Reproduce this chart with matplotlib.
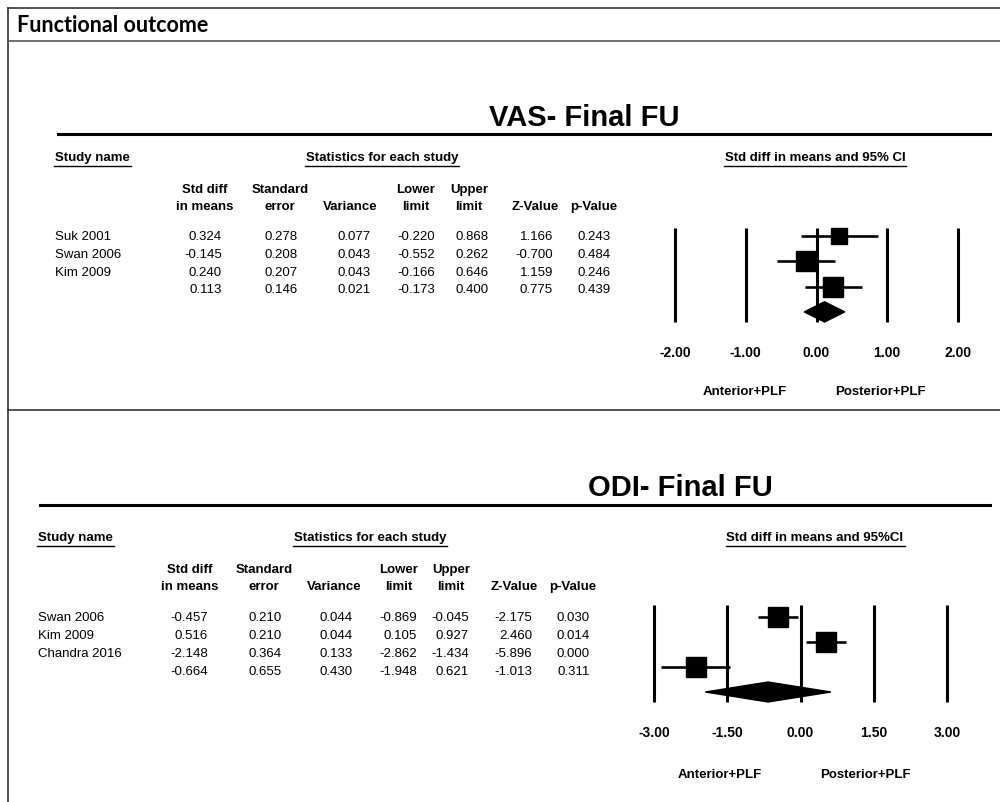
"""
Forest plots of functional outcome (VAS and ODI at final follow-up),
anterior+PLF vs posterior+PLF. Drawn like the CMA output tables.
"""

import matplotlib
matplotlib.use('Agg')
import matplotlib.pyplot as plt
import numpy as np

# Data
# -----------------------------------------------------------------------------

vas_studies = ['Suk 2001', 'Swan 2006', 'Kim 2009']
vas_smd = [0.324, -0.145, 0.240]
vas_se = [0.278, 0.208, 0.207]
vas_var = [0.077, 0.043, 0.043]
vas_lower = [-0.220, -0.552, -0.166]
vas_upper = [0.868, 0.262, 0.646]
vas_z = [1.166, -0.700, 1.159]
vas_p = [0.243, 0.484, 0.246]
# pooled: smd, se, var, lower, upper, z, p
vas_pooled = [0.113, 0.146, 0.021, -0.173, 0.400, 0.775, 0.439]
vas_ticks = [-2.00, -1.00, 0.00, 1.00, 2.00]

odi_studies = ['Swan 2006', 'Kim 2009', 'Chandra 2016']
odi_smd = [-0.457, 0.516, -2.148]
odi_se = [0.210, 0.210, 0.364]
odi_var = [0.044, 0.044, 0.133]
odi_lower = [-0.869, 0.105, -2.862]
odi_upper = [-0.045, 0.927, -1.434]
odi_z = [-2.175, 2.460, -5.896]
odi_p = [0.030, 0.014, 0.000]
odi_pooled = [-0.664, 0.655, 0.430, -1.948, 0.621, -1.013, 0.311]
odi_ticks = [-3.00, -1.50, 0.00, 1.50, 3.00]

head1 = ['Std diff', 'Standard', '', 'Lower', 'Upper', '', '']
head2 = ['in means', 'error', 'Variance', 'limit', 'limit', 'Z-Value', 'p-Value']

# Plot
# -----------------------------------------------------------------------------

FONT = 'Liberation Sans'
W, H = 1000, 802

fig = plt.figure(figsize=(10, 8.02), dpi=100)
bg = fig.add_axes([0, 0, 1, 1])
bg.set_xlim(0, W)
bg.set_ylim(H, 0)
bg.axis('off')

underlined = []


def _txt(x, y, s, size=9.5, weight='normal', ha='left', under=False, **kw):
    t = bg.text(x, y, s, fontsize=size, fontweight=weight, ha=ha, va='center',
                family=FONT, **kw)
    if under:
        underlined.append(t)
    return t


def _weights(var, pooled_var):
    # random-effects weights, tau^2 found from the pooled variance
    var = np.asarray(var)
    lo, hi = 0.0, 10.0
    for _ in range(60):
        t = 0.5 * (lo + hi)
        if 1 / np.sum(1 / (var + t)) < pooled_var:
            lo = t
        else:
            hi = t
    return 1 / (var + t)


def _table(x_name, col_x, head_x, y_top, y_head, y_rows, names, cols, pooled,
           stat_x):
    _txt(x_name, y_top, 'Study name', weight='bold', under=True)
    _txt(stat_x, y_top, 'Statistics for each study', weight='bold', ha='center',
         under=True)
    for hx, h1, h2 in zip(head_x, head1, head2):
        _txt(hx, y_head[0], h1, weight='bold', ha='center')
        _txt(hx, y_head[1], h2, weight='bold', ha='center')
    for i, name in enumerate(names):
        _txt(x_name, y_rows[i], name)
        for cx, col in zip(col_x, cols):
            _txt(cx, y_rows[i], f'{col[i]:.3f}', ha='right')
    for cx, v in zip(col_x, pooled):
        _txt(cx, y_rows[-1], f'{v:.3f}', ha='right')


def _forest(x0, x1, y0, y1, ticks, est, lo, hi, var, pooled, row_top, row_step):
    n = len(est)
    # rows at 0..n (n = pooled), mapped to pixel rows
    ytop = (y0 - row_top) / row_step
    ybot = (y1 - row_top) / row_step
    ax = fig.add_axes([x0 / W, 1 - y1 / H, (x1 - x0) / W, (y1 - y0) / H])
    ax.set_xlim(ticks[0], ticks[-1])
    ax.set_ylim(ybot, ytop)
    ax.set_frame_on(False)
    ax.vlines(ticks, ytop, ybot, color='black', lw=2.2, clip_on=False)
    w = _weights(var, pooled[2])
    side = 20 * np.sqrt(w / w.max())
    for i in range(n):
        ax.hlines(i, lo[i], hi[i], color='black', lw=1.9, clip_on=False)
        ax.plot(est[i], i, 's', color='black', ms=side[i] * 0.72, mec='black',
                clip_on=False)
    ax.fill([pooled[3], pooled[0], pooled[4], pooled[0]],
            [n, n - 0.4, n, n + 0.4], color='black', clip_on=False)
    ax.set_yticks([])
    ax.set_xticks(ticks)
    ax.set_xticklabels([f'{t:.2f}' for t in ticks], fontsize=10,
                       fontweight='bold', family=FONT)
    ax.tick_params(axis='x', length=0, pad=17)
    return ax


# frame
bg.plot([8, W], [8, 8], color='#333333', lw=1.2)
bg.plot([8, 8], [8, H], color='#333333', lw=1.2)
bg.plot([8, W], [41, 41], color='#555555', lw=1.2)
bg.plot([8, W], [410, 410], color='#333333', lw=1.2)
bg.text(17, 26, 'Functional outcome', fontsize=15.5, fontweight='bold',
        family='Lato', va='center')

# VAS panel
_txt(584, 118, 'VAS- Final FU', size=21, weight='bold', ha='center')
bg.plot([58, 990], [134, 134], color='black', lw=2.2)
_table(55, [222, 298, 371, 435, 489, 553, 611],
       [205, 280, 350, 416, 469, 535, 594],
       158, [190, 207], [237, 255, 273, 290], vas_studies,
       [vas_smd, vas_se, vas_var, vas_lower, vas_upper, vas_z, vas_p],
       vas_pooled, 382)
_txt(815, 158, 'Std diff in means and 95% CI', weight='bold', ha='center',
     under=True)
_forest(675, 958, 228, 322, vas_ticks, vas_smd, vas_lower, vas_upper, vas_var,
        vas_pooled, 236, 25.3)
_txt(745, 392, 'Anterior+PLF', weight='bold', ha='center')
_txt(880, 392, 'Posterior+PLF', weight='bold', ha='center')

# ODI panel
_txt(680, 488, 'ODI- Final FU', size=21, weight='bold', ha='center')
bg.plot([40, 990], [505, 505], color='black', lw=2.2)
_table(38, [208, 282, 353, 417, 469, 532, 590],
       [190, 264, 334, 399, 451, 514, 573],
       538, [570, 587], [618, 636, 654, 672], odi_studies,
       [odi_smd, odi_se, odi_var, odi_lower, odi_upper, odi_z, odi_p],
       odi_pooled, 370)
_txt(815, 538, 'Std diff in means and 95%CI', weight='bold', ha='center',
     under=True)
_forest(654, 947, 605, 702, odi_ticks, odi_smd, odi_lower, odi_upper, odi_var,
        odi_pooled, 617, 25.0)
_txt(720, 775, 'Anterior+PLF', weight='bold', ha='center')
_txt(865, 775, 'Posterior+PLF', weight='bold', ha='center')

fig.canvas.draw()
inv = bg.transData.inverted()
for t in underlined:
    bb = t.get_window_extent()
    (xa, ya), (xb, yb) = inv.transform([[bb.x0, bb.y0], [bb.x1, bb.y1]])
    bg.plot([xa - 1, xb + 1], [ya + 2, ya + 2], color='black', lw=1.0)

fig.savefig('out.png', dpi=100)
